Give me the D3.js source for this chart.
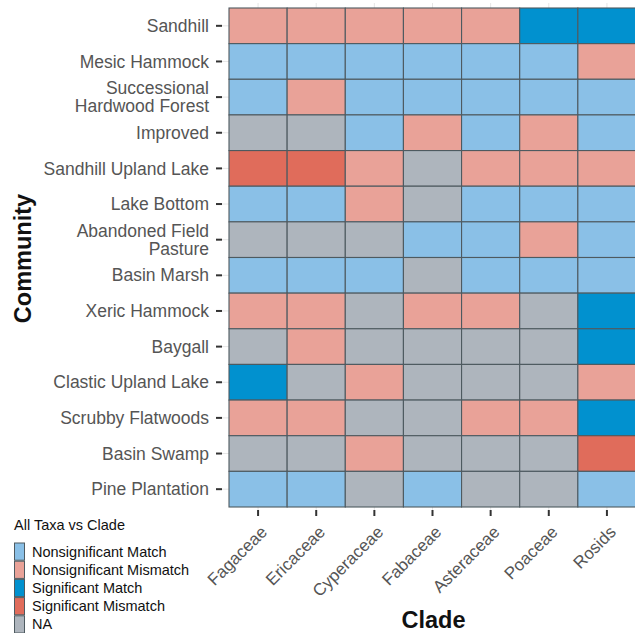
<!DOCTYPE html>
<html>
<head>
<meta charset="utf-8">
<script src="https://cdn.jsdelivr.net/npm/d3@7"></script>
<style>
  html, body { margin: 0; padding: 0; background: #fff; }
  svg { display: block; font-family: "Liberation Sans", Arial, sans-serif; }
</style>
</head>
<body>
<svg id="chart" width="635" height="633"></svg>
<script>
// Clades along the x axis
const clades = ["Fagaceae", "Ericaceae", "Cyperaceae", "Fabaceae", "Asteraceae", "Poaceae", "Rosids"];

// Communities, top to bottom
const communities = [
  "Sandhill", "Mesic Hammock", "Successional\nHardwood Forest", "Improved",
  "Sandhill Upland Lake", "Lake Bottom", "Abandoned Field\nPasture", "Basin Marsh",
  "Xeric Hammock", "Baygall", "Clastic Upland Lake", "Scrubby Flatwoods",
  "Basin Swamp", "Pine Plantation"
];

// Result categories (legend order)
const categories = ["Nonsignificant Match", "Nonsignificant Mismatch", "Significant Match", "Significant Mismatch", "NA"];
const categoryColors = ["#8AC0E7", "#E9A298", "#0191CF", "#E06C5B", "#AEB5BD"];

// Codes per community row, one per clade: NM = nonsig match, NX = nonsig mismatch,
// SM = sig match, SX = sig mismatch, NA = not available
const codeNames = { NM: "Nonsignificant Match", NX: "Nonsignificant Mismatch", SM: "Significant Match", SX: "Significant Mismatch", NA: "NA" };
const results = [
  ["NX", "NX", "NX", "NX", "NX", "SM", "SM"], // Sandhill
  ["NM", "NM", "NM", "NM", "NM", "NM", "NX"], // Mesic Hammock
  ["NM", "NX", "NM", "NM", "NM", "NM", "NM"], // Successional Hardwood Forest
  ["NA", "NA", "NM", "NX", "NM", "NX", "NM"], // Improved
  ["SX", "SX", "NX", "NA", "NX", "NX", "NX"], // Sandhill Upland Lake
  ["NM", "NM", "NX", "NA", "NM", "NM", "NM"], // Lake Bottom
  ["NA", "NA", "NA", "NM", "NM", "NX", "NM"], // Abandoned Field Pasture
  ["NM", "NM", "NM", "NA", "NM", "NM", "NM"], // Basin Marsh
  ["NX", "NX", "NA", "NX", "NX", "NA", "SM"], // Xeric Hammock
  ["NA", "NX", "NA", "NA", "NA", "NA", "SM"], // Baygall
  ["SM", "NA", "NX", "NA", "NA", "NA", "NX"], // Clastic Upland Lake
  ["NX", "NX", "NA", "NA", "NX", "NX", "SM"], // Scrubby Flatwoods
  ["NA", "NA", "NX", "NA", "NA", "NA", "SX"], // Basin Swamp
  ["NM", "NM", "NA", "NM", "NA", "NA", "NM"]  // Pine Plantation
];

const cells = [];
communities.forEach((c, i) => clades.forEach((k, j) => {
  cells.push({ community: c, clade: k, category: codeNames[results[i][j]] });
}));

const svg = d3.select("#chart");
const panel = { left: 229, right: 636, top: 8, bottom: 507 };

const x = d3.scaleBand().domain(clades).range([panel.left, panel.right]).padding(0);
const y = d3.scaleBand().domain(communities).range([panel.top, panel.bottom]).padding(0);
const color = d3.scaleOrdinal().domain(categories).range(categoryColors);

// faint panel grid lines peeking out beyond the tiles
const grid = svg.append("g").attr("stroke", "#e6e6e6").attr("stroke-width", 1);
grid.selectAll("line.v").data(clades).join("line")
  .attr("x1", d => x(d) + x.bandwidth() / 2).attr("x2", d => x(d) + x.bandwidth() / 2)
  .attr("y1", panel.top - 5).attr("y2", panel.bottom + 3);
grid.selectAll("line.h").data(communities).join("line")
  .attr("y1", d => y(d) + y.bandwidth() / 2).attr("y2", d => y(d) + y.bandwidth() / 2)
  .attr("x1", panel.left - 7).attr("x2", panel.right);

// tiles
svg.append("g").selectAll("rect").data(cells).join("rect")
  .attr("x", d => x(d.clade))
  .attr("y", d => y(d.community))
  .attr("width", x.bandwidth())
  .attr("height", y.bandwidth())
  .attr("fill", d => color(d.category))
  .attr("stroke", "#4E5A60")
  .attr("stroke-width", 1.1);

// y axis
const yAxis = svg.append("g").attr("transform", `translate(${panel.left - 7},0)`)
  .call(d3.axisLeft(y).tickSize(6).tickPadding(7));
yAxis.select(".domain").remove();
yAxis.selectAll(".tick line").attr("stroke", "#333").attr("stroke-width", 2);
yAxis.selectAll(".tick text").each(function(d) {
  const t = d3.select(this);
  const lines = d.split("\n");
  t.text(null).attr("font-size", 17.5).attr("fill", "#555").attr("dy", null)
    .attr("font-family", '"Liberation Sans", Arial, sans-serif');
  lines.forEach((ln, i) => {
    t.append("tspan").attr("x", -13)
      .attr("dy", i === 0 ? (0.35 - (lines.length - 1) * 0.52) + "em" : "1.04em")
      .text(ln);
  });
});

// x axis
const xAxis = svg.append("g").attr("transform", `translate(0,${panel.bottom + 3})`)
  .call(d3.axisBottom(x).tickSize(6).tickPadding(0));
xAxis.select(".domain").remove();
xAxis.selectAll(".tick line").attr("stroke", "#333").attr("stroke-width", 2);
xAxis.selectAll(".tick text")
  .attr("font-size", 17).attr("fill", "#555")
  .attr("font-family", '"Liberation Sans", Arial, sans-serif')
  .attr("text-anchor", "end")
  .attr("y", 0).attr("dy", "0.75em")
  .attr("transform", "translate(1,14) rotate(-45)");

// axis titles
svg.append("text")
  .attr("transform", `translate(31,${(panel.top + panel.bottom) / 2 + 1}) rotate(-90)`)
  .attr("text-anchor", "middle")
  .attr("font-size", 23.5).attr("font-weight", "bold").attr("fill", "#111")
  .text("Community");
svg.append("text")
  .attr("x", (panel.left + panel.right) / 2 + 1).attr("y", 628)
  .attr("text-anchor", "middle")
  .attr("font-size", 23.5).attr("font-weight", "bold").attr("fill", "#111")
  .text("Clade");

// legend
const legend = svg.append("g").attr("transform", "translate(14,0)");
legend.append("text").attr("x", 0).attr("y", 530)
  .attr("font-size", 14.5).attr("fill", "#111").text("All Taxa vs Clade");
const keyH = 18.2;
const items = legend.selectAll("g.item").data(categories).join("g")
  .attr("transform", (d, i) => `translate(0,${542.5 + i * keyH})`);
items.append("rect").attr("x", 0.5).attr("y", 0.5).attr("width", 10).attr("height", keyH - 1)
  .attr("fill", d => color(d)).attr("stroke", "#4E5A60").attr("stroke-width", 1);
items.append("text").attr("x", 18).attr("y", keyH / 2).attr("dy", "0.35em")
  .attr("font-size", 14.5).attr("fill", "#111").text(d => d);
</script>
</body>
</html>
